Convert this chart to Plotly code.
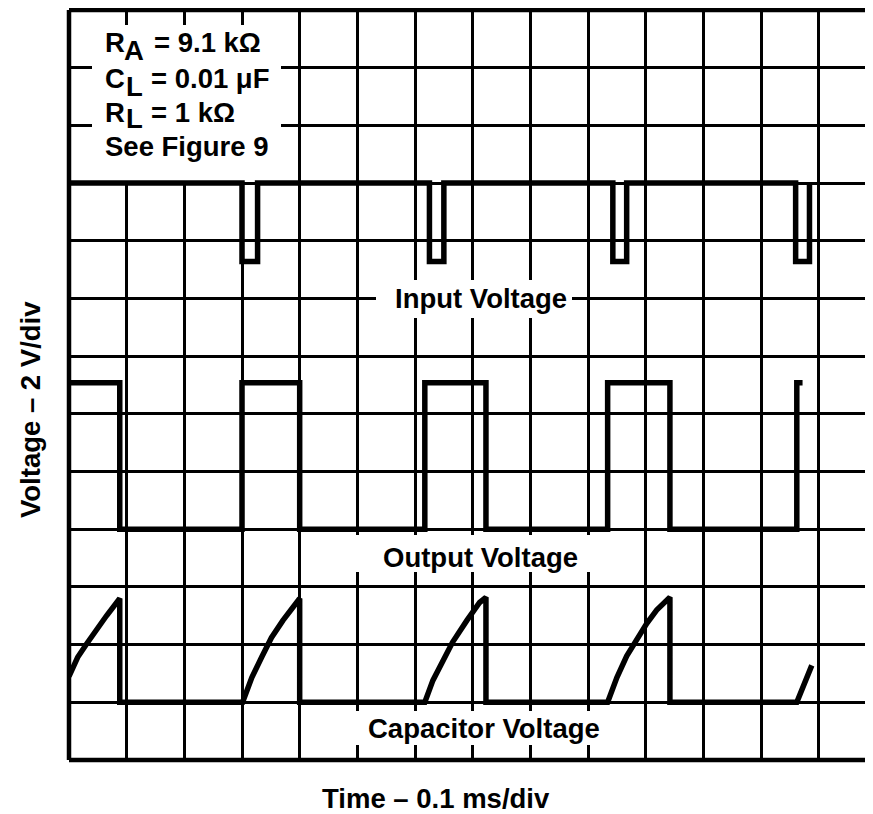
import plotly.graph_objects as go

# ---------------- data (grid units: time 0.1 ms/div, voltage 2 V/div) ----------------
input_high = 10.0
input_low = 8.64
input_dip_start = [3.00, 6.25, 9.43, 12.60]
input_dip_end = [3.27, 6.50, 9.67, 12.84]

output_high = 6.54
output_low = 4.0
output_fall = [0.88, 4.00, 7.23, 10.42]
output_rise = [3.00, 6.17, 9.34, 12.62]
output_end = 12.72

cap_t = [0.00, 0.15, 0.31, 0.48, 0.65, 0.88, 0.88,
         3.01, 3.17, 3.34, 3.51, 3.71, 3.95, 4.00, 4.00,
         6.17, 6.31, 6.48, 6.65, 6.90, 7.12, 7.23, 7.23,
         9.34, 9.50, 9.67, 9.84, 10.02, 10.19, 10.42, 10.42,
         12.62, 12.88]
cap_v = [1.45, 1.78, 2.02, 2.28, 2.50, 2.80, 1.00,
         1.00, 1.43, 1.78, 2.12, 2.42, 2.73, 2.80, 1.00,
         1.00, 1.38, 1.72, 2.04, 2.42, 2.73, 2.82, 1.00,
         1.00, 1.43, 1.80, 2.10, 2.37, 2.60, 2.82, 1.00,
         1.00, 1.64]

x_title = "Time – 0.1 ms/div"
y_title = "Voltage – 2 V/div"
trace_labels = ["Input Voltage", "Output Voltage", "Capacitor Voltage"]

# ---------------- build step waveforms ----------------
in_t, in_v = [0.0], [input_high]
for s, e in zip(input_dip_start, input_dip_end):
    in_t += [s, s, e, e]
    in_v += [input_high, input_low, input_low, input_high]

out_t, out_v = [0.0], [output_high]
for f, r in zip(output_fall, output_rise):
    out_t += [f, f, r, r]
    out_v += [output_high, output_low, output_low, output_high]
out_t.append(output_end)
out_v.append(output_high)

# ---------------- layout geometry (page has an 8px body margin) ----------------
OFF = 8
W_FIG, H_FIG = 873, 814
PLOT_L, PLOT_T, PLOT_R, PLOT_B = 69, 10, 873, 760   # page pixels
L = PLOT_L - OFF
T = PLOT_T - OFF
R = W_FIG - (PLOT_R - OFF)
B = H_FIG - (PLOT_B - OFF)
PW = PLOT_R - PLOT_L
PH = PLOT_B - PLOT_T
DX = 57.67
DY = PH / 13.0
XMAX = PW / DX

def px(x):            # page px -> paper x
    return (x - PLOT_L) / PW

def py(y):            # page px -> paper y
    return (PLOT_B - y) / PH

def dx(x):            # page px -> data x
    return (x - PLOT_L) / DX

def dy(y):            # page px -> data y
    return (PLOT_B - y) / DY

FONT = "Liberation Sans, Arial, sans-serif"
FS = 27.5

fig = go.Figure()
line_style = dict(color="black", width=5.5)
fig.add_trace(go.Scatter(x=in_t, y=in_v, mode="lines", line=line_style,
                         hoverinfo="skip", showlegend=False))
fig.add_trace(go.Scatter(x=out_t, y=out_v, mode="lines", line=line_style,
                         hoverinfo="skip", showlegend=False))
fig.add_trace(go.Scatter(x=cap_t, y=cap_v, mode="lines", line=line_style,
                         hoverinfo="skip", showlegend=False))

shapes = []
# white boxes hiding the grid behind texts (between grid and traces)
for (x0, x1, y0, y1) in [(92, 281, 25, 182),
                         (376, 572, 280, 318),
                         (345, 598, 535, 572),
                         (345, 605, 711, 745)]:
    shapes.append(dict(type="rect", xref="x", yref="y",
                       x0=dx(x0), x1=dx(x1), y0=dy(y1), y1=dy(y0),
                       fillcolor="white", line=dict(width=0), layer="between"))
# frame: left, top, bottom
border = dict(color="black", width=4.5)
shapes.append(dict(type="line", xref="paper", yref="paper", x0=0, x1=0, y0=0, y1=1, line=border))
shapes.append(dict(type="line", xref="paper", yref="paper", x0=0, x1=1, y0=1, y1=1, line=border))
shapes.append(dict(type="line", xref="paper", yref="paper", x0=0, x1=1, y0=0, y1=0, line=border))

annotations = []
def txt(text, x, y, xanchor="left", angle=0):
    annotations.append(dict(text=text, x=px(x), y=py(y), xref="paper", yref="paper",
                            xanchor=xanchor, yanchor="middle", showarrow=False,
                            textangle=angle,
                            font=dict(family=FONT, size=FS, color="black", weight="bold")))

# parameter box
txt("R", 103, 42.5)
txt("A", 122, 50)
txt("= 9.1 kΩ", 152, 42.5)
txt("C", 103, 79)
txt("L", 124, 86)
txt("= 0.01 μF", 149, 79)
txt("R", 103, 112.5)
txt("L", 124, 119)
txt("= 1 kΩ", 149, 112.5)
txt("See Figure 9", 103, 146)

# trace labels
txt(trace_labels[0], 393, 298)
txt(trace_labels[1], 381, 557)
txt(trace_labels[2], 366, 728)

# axis titles
txt(x_title, 436, 798, xanchor="center")
txt(y_title, 30, 410, xanchor="center", angle=-90)

fig.update_layout(
    width=W_FIG, height=H_FIG,
    margin=dict(l=L, r=R, t=T, b=B, pad=0),
    paper_bgcolor="white", plot_bgcolor="white",
    shapes=shapes, annotations=annotations,
    xaxis=dict(range=[0, XMAX], dtick=1, tick0=0, showgrid=True, gridcolor="black",
               gridwidth=2.5, zeroline=False, showticklabels=False, ticks="",
               showline=False, fixedrange=True),
    yaxis=dict(range=[0, 13], dtick=1, tick0=0, showgrid=True, gridcolor="black",
               gridwidth=2.5, zeroline=False, showticklabels=False, ticks="",
               showline=False, fixedrange=True),
    showlegend=False,
)

fig.write_html("out.html", config={"displayModeBar": False})
